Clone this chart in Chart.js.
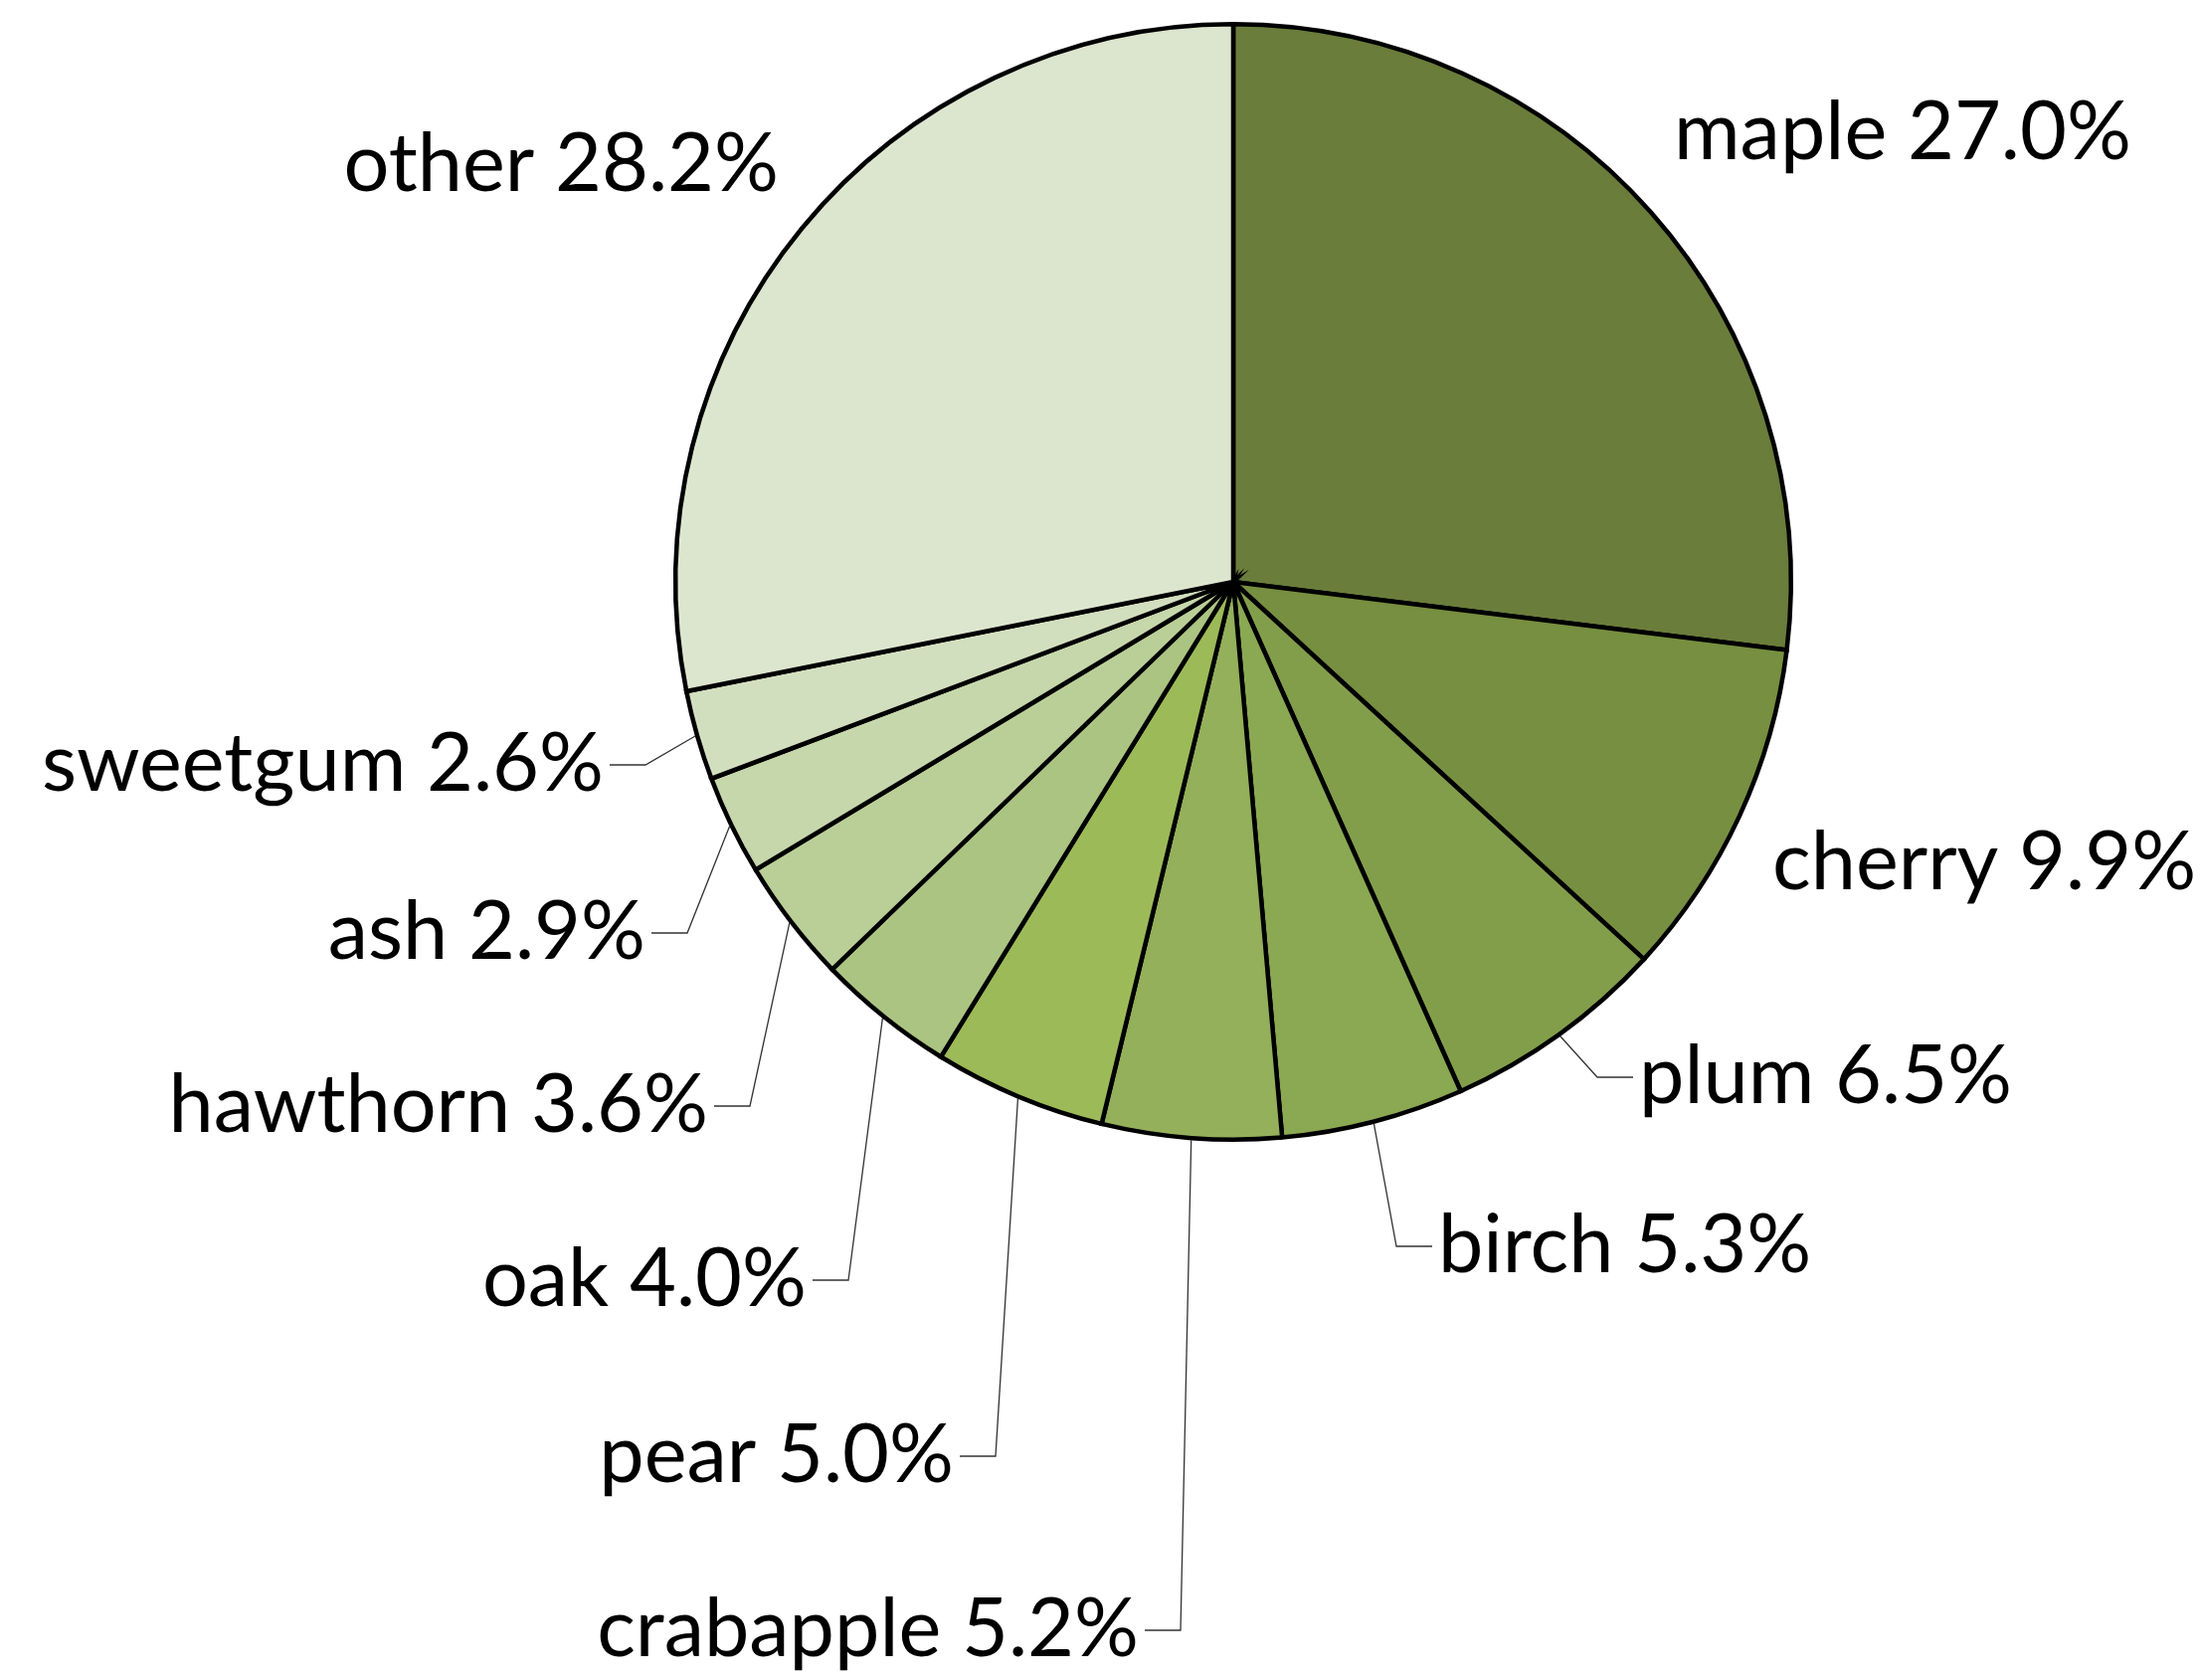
<!DOCTYPE html>
<html>
<head>
<meta charset="utf-8">
<title>Trees</title>
<script src="https://cdn.jsdelivr.net/npm/chart.js@4.4.1/dist/chart.umd.min.js"></script>
<style>
    html, body { margin: 0; padding: 0; background: #ffffff; }
    #wrap { width: 2212px; height: 1689px; position: relative; }
</style>
</head>
<body>
<div id="wrap"><canvas id="treeChart" width="2212" height="1689"></canvas></div>
<script>
// data (percent of trees)
const categories = ["maple", "cherry", "plum", "birch", "crabapple", "pear", "oak", "hawthorn", "ash", "sweetgum", "other"];
const shares = [27.0, 9.9, 6.5, 5.3, 5.2, 5.0, 4.0, 3.6, 2.9, 2.6, 28.2];
const sliceColors = ["#6a7d3b", "#778f40", "#839e4b", "#8ba852", "#94b05b", "#9dba58", "#abc482", "#bacf98", "#c6d7ac", "#d2dfbf", "#dce6ce"];

// where each label sits (x, y of the text anchor, in px) and if it has a leader line
const labelSpots = [
    { x: 1683, y: 134, align: "left", leader: false },
    { x: 1782, y: 868, align: "left", leader: false },
    { x: 1648, y: 1083, align: "left", leader: true },
    { x: 1446, y: 1253, align: "left", leader: true },
    { x: 1145, y: 1639, align: "right", leader: true },
    { x: 959, y: 1464, align: "right", leader: true },
    { x: 811, y: 1287, align: "right", leader: true },
    { x: 712, y: 1112, align: "right", leader: true },
    { x: 649, y: 938, align: "right", leader: true },
    { x: 607, y: 769, align: "right", leader: true },
    { x: 783, y: 166, align: "right", leader: false }
];

const FONT = "81px Lato, 'Open Sans', sans-serif";

const pieLabels = {
    id: "pieLabels",
    afterDraw(chart) {
        const ctx = chart.ctx;
        const arcs = chart.getDatasetMeta(0).data;
        ctx.save();
        ctx.font = FONT;
        ctx.textBaseline = "middle";
        arcs.forEach((arc, i) => {
            const spot = labelSpots[i];
            const text = categories[i] + " " + shares[i].toFixed(1) + "%";
            const mid = (arc.startAngle + arc.endAngle) / 2;
            if (spot.leader) {
                const ex = arc.x + Math.cos(mid) * (arc.outerRadius + 2);
                const ey = arc.y + Math.sin(mid) * (arc.outerRadius + 2);
                const gap = 6;
                const endX = spot.align === "left" ? spot.x - gap : spot.x + gap;
                const elbowX = spot.align === "left" ? endX - 36 : endX + 36;
                ctx.beginPath();
                ctx.moveTo(ex, ey);
                ctx.lineTo(elbowX, spot.y);
                ctx.lineTo(endX, spot.y);
                ctx.strokeStyle = "#333333";
                ctx.lineWidth = 1.3;
                ctx.stroke();
            }
            ctx.fillStyle = "#000000";
            ctx.textAlign = spot.align;
            ctx.fillText(text, spot.x, spot.y);
        });
        ctx.restore();
    }
};

const chart = new Chart(document.getElementById("treeChart").getContext("2d"), {
    type: "pie",
    data: {
        labels: categories,
        datasets: [{
            data: shares,
            backgroundColor: sliceColors,
            borderColor: "#000000",
            borderWidth: 4.5,
            borderJoinStyle: "miter"
        }]
    },
    options: {
        responsive: false,
        animation: false,
        layout: { padding: { top: 22, bottom: 541, left: 677, right: 409 } },
        plugins: {
            legend: { display: false },
            tooltip: { enabled: false }
        }
    },
    plugins: [pieLabels]
});
</script>
</body>
</html>
